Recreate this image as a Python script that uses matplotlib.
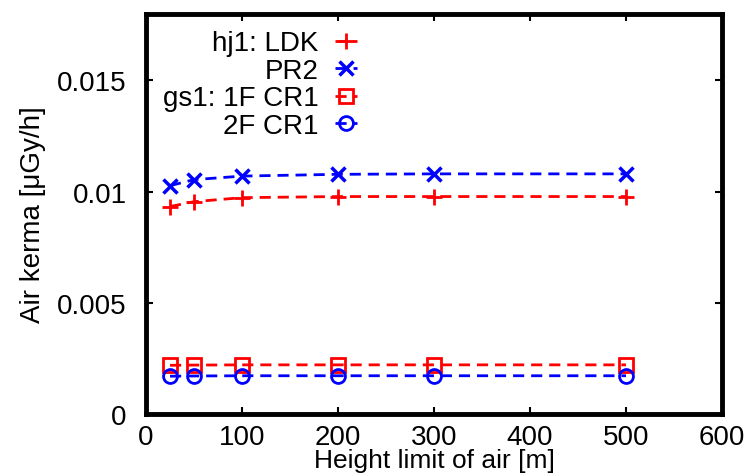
import matplotlib
matplotlib.use("Agg")
import matplotlib.pyplot as plt

plt.rcParams['font.family'] = ['Liberation Sans', 'DejaVu Sans']

height = [25, 50, 100, 200, 300, 500]
ldk = [0.00933, 0.00955, 0.00973, 0.00978, 0.00978, 0.00978]
pr2 = [0.01027, 0.01054, 0.01070, 0.01078, 0.01080, 0.01080]
cr1_1f = [0.00219, 0.00220, 0.00221, 0.00221, 0.00221, 0.00221]
cr1_2f = [0.00170, 0.00171, 0.00172, 0.00172, 0.00172, 0.00172]

fig = plt.figure(figsize=(7.47, 4.77), dpi=100)
ax = fig.add_axes([0.1955, 0.13, 0.771, 0.839])

dash = (0, (4, 2.5))
ax.plot(height, ldk, color='red', ls=dash, lw=2, marker='+', ms=12, mew=2, label='hj1: LDK')
ax.plot(height, pr2, color='blue', ls=dash, lw=2, marker='x', ms=10, mew=2.5, label='PR2')
ax.plot(height, cr1_1f, color='red', ls=dash, lw=2, marker='s', ms=10, mew=2, mfc='none', label='gs1: 1F CR1')
ax.plot(height, cr1_2f, color='blue', ls=dash, lw=2, marker='o', ms=10, mew=2, mfc='none', label='2F CR1')

ax.set_xlim(0, 600)
ax.set_ylim(0, 0.018)
ax.set_xticks([0, 100, 200, 300, 400, 500, 600])
ax.set_yticks([0, 0.005, 0.01, 0.015])
ax.set_yticklabels(['0', '0.005', '0.01', '0.015'])

for s in ax.spines.values():
    s.set_linewidth(3.5)
ax.tick_params(direction='in', top=True, right=True, length=5, width=1.5,
               labelsize=20, pad=7)
ax.tick_params(axis='y', pad=14)

ax.set_xlabel('Height limit of air [m]', fontsize=19, labelpad=-1)
ax.set_ylabel('Air kerma [\u03bcGy/h]', fontsize=20, labelpad=8)

ax.legend(loc='upper left', bbox_to_anchor=(0.0, 1.0), markerfirst=False, frameon=False,
          fontsize=20, handlelength=0.8, handletextpad=0.6, labelspacing=0.05,
          borderaxespad=0.2)

fig.savefig('out.png', dpi=100)
